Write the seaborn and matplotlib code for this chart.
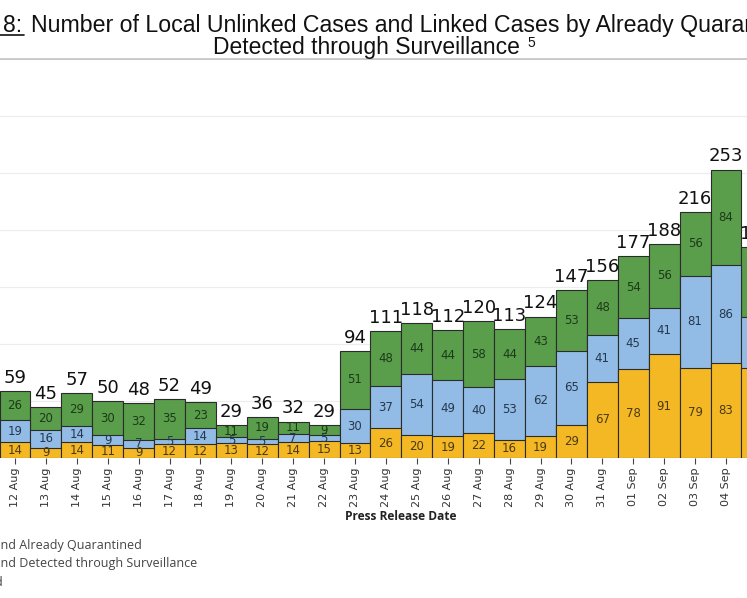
import numpy as np
import pandas as pd
import seaborn as sns
import matplotlib.pyplot as plt
from matplotlib.patches import Patch
from matplotlib.lines import Line2D

dates = ['12 Aug', '13 Aug', '14 Aug', '15 Aug', '16 Aug', '17 Aug', '18 Aug',
         '19 Aug', '20 Aug', '21 Aug', '22 Aug', '23 Aug', '24 Aug', '25 Aug',
         '26 Aug', '27 Aug', '28 Aug', '29 Aug', '30 Aug', '31 Aug', '01 Sep',
         '02 Sep', '03 Sep', '04 Sep', '05 Sep']
quarantined = [14, 9, 14, 11, 9, 12, 12, 13, 12, 14, 15, 13, 26, 20, 19, 22, 16,
               19, 29, 67, 78, 91, 79, 83, 79]
surveillance = [19, 16, 14, 9, 7, 5, 14, 5, 5, 7, 5, 30, 37, 54, 49, 40, 53,
                62, 65, 41, 45, 41, 81, 86, 45]
unlinked = [26, 20, 29, 30, 32, 35, 23, 11, 19, 11, 9, 51, 48, 44, 44, 58, 44,
            43, 53, 48, 54, 56, 56, 84, 61]

df = pd.DataFrame({'date': dates, 'q': quarantined, 's': surveillance, 'u': unlinked})
df['qs'] = df['q'] + df['s']
df['total'] = df['qs'] + df['u']

c_q = '#F4B824'
c_s = '#92BCE5'
c_u = '#5A9E4C'
edge = '#2b2b2b'

sns.set_style("white")

fig = plt.figure(figsize=(7.47, 5.98), dpi=100)
ax = fig.add_axes([0, 1 - 458 / 598, 1, (458 - 59) / 598])

# stacked bars: draw cumulative heights from the top layer down
for col, c in [('total', c_u), ('qs', c_s), ('q', c_q)]:
    sns.barplot(data=df, x='date', y=col, color=c, saturation=1, width=1.0,
                edgecolor=edge, linewidth=0.8, ax=ax, zorder=2)

for i, row in df.iterrows():
    ax.text(i, row['q'] / 2, str(row['q']), ha='center', va='center',
            fontsize=8.5, color='#4a3a14', clip_on=True, zorder=3)
    ax.text(i, row['q'] + row['s'] / 2, str(row['s']), ha='center', va='center',
            fontsize=8.5, color='#24384f', clip_on=True, zorder=3)
    ax.text(i, row['qs'] + row['u'] / 2, str(row['u']), ha='center', va='center',
            fontsize=8.5, color='#1c3a17', clip_on=True, zorder=3)
    ax.annotate(str(row['total']), (i, row['total']), xytext=(0, 3),
                textcoords='offset points', ha='center', va='bottom',
                fontsize=13, color='#111111', annotation_clip=False, clip_on=True)

ax.set_xlim(-0.485, 23.68)
ax.set_ylim(0, 350)
ax.set_yticks(np.arange(0, 351, 50))
ax.set_yticklabels([])
ax.tick_params(axis='y', length=0)
ax.yaxis.grid(True, color='#ececec', linewidth=0.8, zorder=0)
ax.set_axisbelow(True)
for s in ['left', 'right', 'bottom']:
    ax.spines[s].set_visible(False)
ax.spines['top'].set_color('#c4c4c4')
ax.spines['top'].set_linewidth(1.2)

ax.tick_params(axis='x', rotation=90, labelsize=8, labelcolor='#333333',
               length=4, width=0.8, color='#444444', pad=3, bottom=True)
ax.set_ylabel('')
ax.set_xlabel('Press Release Date', fontsize=8.6, fontweight='bold',
              family=['Open Sans', 'DejaVu Sans'], color='#222222')
ax.xaxis.set_label_coords(401 / 747, -(510 - 458) / 399, transform=ax.transAxes)

# title
fig.text(3 / 747, 1 - 32 / 598, '8:', ha='left', va='baseline', fontsize=16.5,
         family='Liberation Sans', color='#111111')
fig.add_artist(Line2D([0, 24 / 747], [1 - 35 / 598, 1 - 35 / 598],
                      color='#111111', linewidth=1.2, transform=fig.transFigure))
fig.text(31 / 747, 1 - 32 / 598,
         'Number of Local Unlinked Cases and Linked Cases by Already Quarantined and',
         ha='left', va='baseline', fontsize=16.7, family='Liberation Sans', color='#111111')
fig.text(366 / 747, 1 - 54 / 598, 'Detected through Surveillance',
         ha='center', va='baseline', fontsize=16.5, family='Liberation Sans', color='#111111')
fig.text(527 / 747, 1 - 47 / 598, '5', ha='left', va='baseline', fontsize=10,
         family='Liberation Sans', color='#111111')

handles = [Patch(facecolor=c_q, edgecolor='none'),
           Patch(facecolor=c_s, edgecolor='none'),
           Patch(facecolor=c_u, edgecolor='none')]
labels = ['Linked and Already Quarantined',
          'Linked and Detected through Surveillance',
          'Unlinked']
fig.legend(handles, labels, loc='upper left', bbox_to_anchor=(-69 / 747, 1 - 539 / 598),
           frameon=False, handlelength=1.0, handletextpad=0.6,
           borderaxespad=0, borderpad=0, labelspacing=0.42,
           prop={'family': 'Open Sans', 'size': 9}, labelcolor='#444444')

fig.savefig('out.png', dpi=100)
